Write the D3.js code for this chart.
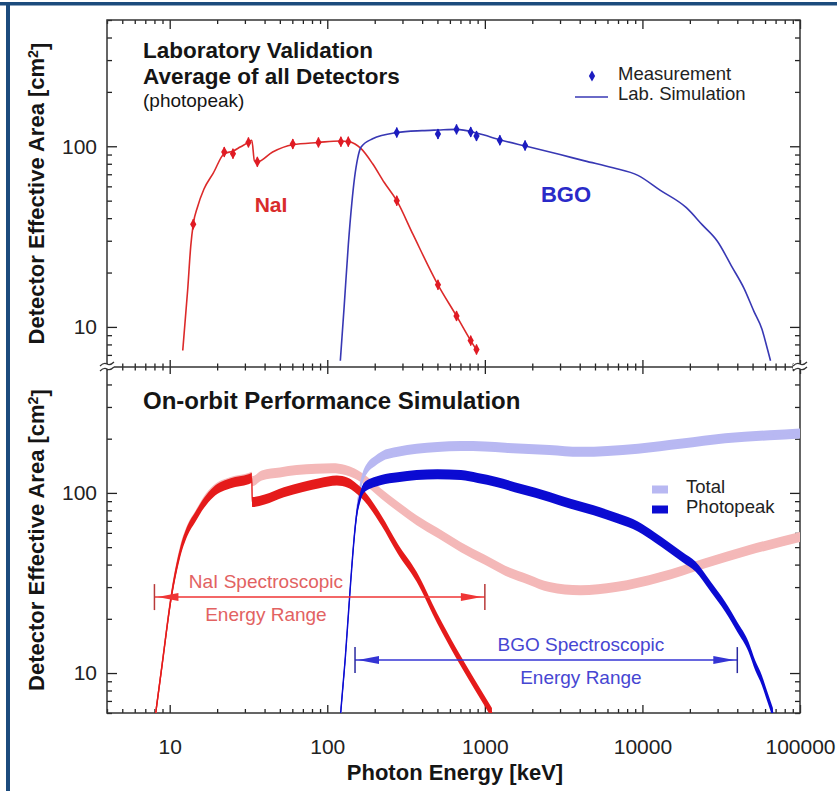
<!DOCTYPE html>
<html>
<head>
<meta charset="utf-8">
<script src="https://cdn.jsdelivr.net/npm/d3@7"></script>
<style>
  body { margin: 0; background: #fff; }
  svg { display: block; font-family: 'Liberation Sans', Arial, Helvetica, sans-serif; }
  .tick line { stroke: #222; stroke-width: 1.3; }
  .tick text { fill: #222; font-size: 21px; }
</style>
</head>
<body>
<script>
// energies in keV, effective area in cm^2

const xMajor = [10, 100, 1000, 10000, 100000]
const yMajor = [10, 100]

// laboratory validation (upper panel)
const naiSim = [[12.1, 7.4], [13.0, 16], [13.6, 28], [14.1, 37], [15.0, 46], [16.5, 58], [18.9, 71],
    [22.2, 91], [25.2, 94], [28.0, 99], [31.6, 105], [33.2, 108], [34.5, 83], [36.0, 82], [45, 93],
    [60.4, 102], [88, 105], [120, 107], [138, 106], [150, 103], [164, 97], [194, 80], [230, 63],
    [276, 50], [350, 32.5], [504, 17.1], [661, 11.5], [813, 8.4], [900, 7.3]]
const bgoSim = [[121, 6.5], [128, 13], [136, 28.5], [143, 48], [149, 67], [156, 86], [164, 99],
    [194, 110], [276, 119], [400, 122], [504, 123], [661, 124], [900, 118], [1275, 108], [1836, 100],
    [3000, 90], [4300, 83], [6500, 76], [9360, 69], [13000, 57], [19000, 45.7], [24000, 36.7],
    [29900, 29.8], [37000, 21.5], [44200, 16.3], [51000, 12.2], [57300, 9.75], [62000, 7.6], [65000, 6.5]]
const naiMeas = [[14.1, 37], [22.2, 93], [25.2, 91], [31.6, 105], [36.0, 82], [60.4, 103], [87.9, 105],
    [122, 106], [136, 106], [276, 50], [504, 17.1], [661, 11.5], [813, 8.4], [885, 7.5]]
const bgoMeas = [[276, 119], [504, 117], [661, 124], [813, 120], [885, 114], [1245, 108], [1800, 101]]

// on-orbit simulation (lower panel)
const naiTotal = [[8.15, 6], [9.0, 11.7], [10.2, 26.5], [11.6, 47], [13.0, 63], [14.6, 75], [16.5, 90],
    [18.9, 103], [24.4, 115], [31.6, 121], [33.2, 123], [33.4, 116], [38.4, 125], [50, 130], [64, 134],
    [85, 136], [108, 137], [130, 134], [149, 128], [180, 115], [220, 99], [280, 84], [369, 70.6],
    [500, 60], [705, 50], [1000, 42.5], [1346, 37], [1900, 33], [2570, 30], [4040, 28.8], [6760, 30],
    [12900, 34], [24700, 40.6], [47100, 48], [100000, 57]]
const naiPhoto = [[8.15, 6], [9.0, 11.5], [10.2, 26], [11.6, 46], [13.0, 62], [14.6, 74], [16.5, 88],
    [18.9, 101], [24.4, 113], [31.6, 119], [33.2, 121], [33.4, 89], [40, 92], [53, 101], [70, 108],
    [89, 113], [115, 117], [135, 114], [149, 108], [170, 97], [220, 70.6], [280, 49], [369, 34.2],
    [500, 20], [661, 12.8], [850, 8.8], [1109, 6]]
const bgoTotal = [[121.6, 6], [130, 12], [140, 30], [147, 53], [154, 80], [160, 102], [168, 122],
    [180, 138], [200, 150], [220, 159], [280, 169], [369, 176], [500, 180], [705, 182], [1000, 181],
    [1346, 178], [2570, 173], [4040, 169], [6000, 171], [9360, 176], [17860, 188], [33500, 201],
    [64000, 209], [100000, 214]]
const bgoPhoto = [[121.6, 6], [130, 12], [140, 30], [147, 52], [154, 77], [162, 95], [170, 106],
    [190, 113], [220, 118], [280, 122], [369, 125.6], [500, 127], [705, 125.6], [900, 121], [1183, 115],
    [1700, 105], [2570, 95], [3500, 87], [4900, 80], [7000, 72], [9360, 65], [12000, 56.5], [14700, 50],
    [18000, 44], [21700, 39], [27000, 30.3], [33500, 23.3], [40000, 18], [47100, 14], [52000, 11],
    [57300, 9.1], [62000, 7.4], [67300, 6]]

// spectroscopic energy ranges
const naiRange = [8, 1000]
const bgoRange = [150, 40000]

// measurements for the figure
const m = {
    width: 837,
    height: 791,
    left: 107,
    right: 800,
    top: 20,
    mid: 367,
    bottom: 713
}

const svg = d3.select('body').append('svg')
    .attr('width', m.width)
    .attr('height', m.height)

// page frame
svg.append('rect').attr('x', 0).attr('y', 2).attr('width', m.width).attr('height', 3.5).attr('fill', '#1c4b7d')
svg.append('rect').attr('x', 6).attr('y', 2).attr('width', 4).attr('height', m.height).attr('fill', '#1c4b7d')

// scales
const x = d3.scaleLog().domain([4, 100000]).range([m.left, m.right])
const yTop = d3.scaleLog().domain([6, 500]).range([m.mid, m.top])
const yBot = d3.scaleLog().domain([6, 500]).range([m.bottom, m.mid])

const xMinor = x.ticks().filter(d => !xMajor.includes(d))
const yMinor = yTop.ticks().filter(d => !yMajor.includes(d))

// clip each panel
const defs = svg.append('defs')
const clip = (id, y0, y1) => defs.append('clipPath').attr('id', id).append('rect')
    .attr('x', m.left).attr('y', y0).attr('width', m.right - m.left).attr('height', y1 - y0)
clip('clipTop', m.top, m.mid)
clip('clipBot', m.mid, m.bottom)

// tick helper, ticks point into the panels (negative size)
function ticks(pos, axis, scale, vals, size) {
    const horiz = axis === d3.axisTop || axis === d3.axisBottom
    svg.append('g')
        .attr('transform', horiz ? `translate(0,${pos})` : `translate(${pos},0)`)
        .call(axis(scale).tickValues(vals).tickSize(size).tickFormat(''))
        .call(g => g.select('.domain').remove())
}

ticks(m.top, d3.axisTop, x, xMajor, -9)
ticks(m.top, d3.axisTop, x, xMinor, -4)
ticks(m.mid, d3.axisTop, x, xMajor, -7)
ticks(m.mid, d3.axisTop, x, xMinor, -3.5)
ticks(m.mid, d3.axisBottom, x, xMajor, -7)
ticks(m.mid, d3.axisBottom, x, xMinor, -3.5)
ticks(m.bottom, d3.axisBottom, x, xMinor, -4)
for (const y of [yTop, yBot]) {
    ticks(m.left, d3.axisLeft, y, yMinor, -5)
    ticks(m.right, d3.axisRight, y, yMajor, -10)
    ticks(m.right, d3.axisRight, y, yMinor, -5)
}

// labelled axes
svg.append('g')
    .attr('transform', `translate(0,${m.bottom})`)
    .call(d3.axisBottom(x).tickValues(xMajor).tickSize(-8).tickPadding(26).tickFormat(d3.format('d')))
    .call(g => g.select('.domain').remove())
    .attr('font-size', null).attr('font-family', null)
for (const y of [yTop, yBot]) {
    svg.append('g')
        .attr('transform', `translate(${m.left},0)`)
        .call(d3.axisLeft(y).tickValues(yMajor).tickSize(-10).tickPadding(10).tickFormat(d3.format('d')))
        .call(g => g.select('.domain').remove())
        .attr('font-size', null).attr('font-family', null)
}

// frame of the two panels
svg.append('rect')
    .attr('x', m.left).attr('y', m.top)
    .attr('width', m.right - m.left).attr('height', m.bottom - m.top)
    .attr('fill', 'none').attr('stroke', '#333').attr('stroke-width', 1.5)
svg.append('line')
    .attr('x1', m.left).attr('x2', m.right).attr('y1', m.mid).attr('y2', m.mid)
    .attr('stroke', '#333').attr('stroke-width', 1.5)

// axis break marks
for (const bx of [m.left, m.right]) {
    const b = svg.append('g').attr('transform', `translate(${bx},${m.mid})`)
    b.append('rect').attr('x', -7).attr('y', -3).attr('width', 14).attr('height', 5).attr('fill', '#fff')
    for (const off of [-3, 2]) {
        b.append('path')
            .attr('d', `M-7,${off + 2} Q-3,${off - 2} 0,${off} T7,${off - 2}`)
            .attr('fill', 'none').attr('stroke', '#333').attr('stroke-width', 1.2)
    }
}

// ---- upper panel ----
const upper = svg.append('g').attr('clip-path', 'url(#clipTop)')
const lineTop = d3.line().x(d => x(d[0])).y(d => yTop(d[1])).curve(d3.curveMonotoneX)

upper.append('path').datum(naiSim).attr('d', lineTop)
    .attr('fill', 'none').attr('stroke', '#dc2a2a').attr('stroke-width', 1.6)
upper.append('path').datum(bgoSim).attr('d', lineTop)
    .attr('fill', 'none').attr('stroke', '#3838b4').attr('stroke-width', 1.6)

const diamond = d3.symbol().type(d3.symbolDiamond).size(34)
function markers(data, color) {
    const g = upper.selectAll(null).data(data).join('g')
        .attr('transform', d => `translate(${x(d[0])},${yTop(d[1])})`)
    g.append('line').attr('y1', -5).attr('y2', 5).attr('stroke', color).attr('stroke-width', 1.4)
    g.append('path').attr('d', diamond).attr('fill', color)
}
markers(naiMeas, '#e01b24')
markers(bgoMeas, '#1c1cc0')

svg.append('text').attr('x', 143).attr('y', 58)
    .attr('font-size', 22.5).attr('font-weight', 'bold').attr('fill', '#151515')
    .text('Laboratory Validation')
svg.append('text').attr('x', 143).attr('y', 84)
    .attr('font-size', 22.5).attr('font-weight', 'bold').attr('fill', '#151515')
    .text('Average of all Detectors')
svg.append('text').attr('x', 143).attr('y', 107)
    .attr('font-size', 19).attr('fill', '#151515')
    .text('(photopeak)')

svg.append('text').attr('x', 271).attr('y', 212).attr('text-anchor', 'middle')
    .attr('font-size', 21).attr('font-weight', 'bold').attr('fill', '#d92b2b').text('NaI')
svg.append('text').attr('x', 566).attr('y', 202).attr('text-anchor', 'middle')
    .attr('font-size', 22).attr('font-weight', 'bold').attr('fill', '#2a2ac8').text('BGO')

// upper legend
svg.append('path').attr('d', diamond).attr('transform', 'translate(592,76)').attr('fill', '#1c1cc0')
svg.append('line').attr('x1', 575).attr('x2', 608).attr('y1', 97).attr('y2', 97)
    .attr('stroke', '#3838b4').attr('stroke-width', 1.6)
svg.append('text').attr('x', 618).attr('y', 80).attr('font-size', 18.5).attr('fill', '#222').text('Measurement')
svg.append('text').attr('x', 618).attr('y', 100).attr('font-size', 18.5).attr('fill', '#222').text('Lab. Simulation')

// ---- lower panel ----
const lower = svg.append('g').attr('clip-path', 'url(#clipBot)')
const band = d3.area()
    .x(d => x(d[0]))
    .y0(d => yBot(d[1]) - 5)
    .y1(d => yBot(d[1]) + 5)
    .curve(d3.curveMonotoneX)
const lineBot = d3.line().x(d => x(d[0])).y(d => yBot(d[1])).curve(d3.curveMonotoneX)

const curves = [
    { data: naiTotal, color: '#f4b8b8' },
    { data: bgoTotal, color: '#b8b8f2' },
    { data: naiPhoto, color: '#e51b1b' },
    { data: bgoPhoto, color: '#0b0bd2' }
]
for (const c of curves) {
    lower.append('path').datum(c.data).attr('d', band).attr('fill', c.color)
    lower.append('path').datum(c.data).attr('d', lineBot)
        .attr('fill', 'none').attr('stroke', c.color).attr('stroke-width', 1.4)
}

svg.append('text').attr('x', 143).attr('y', 409)
    .attr('font-size', 24).attr('font-weight', 'bold').attr('fill', '#151515')
    .text('On-orbit Performance Simulation')

// spectroscopic range arrows
function rangeArrow(range, yVal, labelE, label, color, barColor, textColor) {
    const x0 = x(range[0]), x1 = x(range[1]), yy = yBot(yVal)
    const g = svg.append('g')
    g.append('line').attr('x1', x0).attr('x2', x1).attr('y1', yy).attr('y2', yy)
        .attr('stroke', color).attr('stroke-width', 1.5)
    for (const bx of [x0, x1]) {
        g.append('line').attr('x1', bx).attr('x2', bx).attr('y1', yy - 13).attr('y2', yy + 13)
            .attr('stroke', barColor).attr('stroke-width', 1.5)
    }
    g.append('path').attr('d', `M${x0 + 3},${yy}L${x0 + 24},${yy - 4}L${x0 + 24},${yy + 4}Z`).attr('fill', color)
    g.append('path').attr('d', `M${x1 - 3},${yy}L${x1 - 24},${yy - 4}L${x1 - 24},${yy + 4}Z`).attr('fill', color)
    g.append('text').attr('x', x(labelE)).attr('y', yy - 9).attr('text-anchor', 'middle')
        .attr('font-size', 19).attr('fill', textColor).text(label)
    g.append('text').attr('x', x(labelE)).attr('y', yy + 24).attr('text-anchor', 'middle')
        .attr('font-size', 19).attr('fill', textColor).text('Energy Range')
}
rangeArrow(naiRange, 26.4, 40.8, 'NaI Spectroscopic', '#ef3535', '#b83a3a', '#e26262')
rangeArrow(bgoRange, 11.8, 4070, 'BGO Spectroscopic', '#3434d4', '#2a2aa0', '#4646d2')

// lower legend
const legend = [{ name: 'Total', color: '#b8b8f2' }, { name: 'Photopeak', color: '#0b0bd2' }]
legend.forEach((d, i) => {
    svg.append('rect').attr('x', 652).attr('y', 485.5 + i * 20).attr('width', 16).attr('height', 8).attr('fill', d.color)
    svg.append('text').attr('x', 686).attr('y', 493 + i * 20).attr('font-size', 18.5).attr('fill', '#222').text(d.name)
})

// axis titles
for (const cy of [(m.top + m.mid) / 2, (m.mid + m.bottom) / 2]) {
    const t = svg.append('text')
        .attr('transform', `translate(44,${cy})rotate(-90)`)
        .attr('text-anchor', 'middle')
        .attr('font-size', 22).attr('font-weight', 'bold').attr('fill', '#151515')
    t.append('tspan').text('Detector Effective Area [cm')
    t.append('tspan').attr('dy', '-0.45em').attr('font-size', '0.65em').text('2')
    t.append('tspan').attr('dy', '0.45em').text(']')
}
svg.append('text').attr('x', 455).attr('y', 780).attr('text-anchor', 'middle')
    .attr('font-size', 22).attr('font-weight', 'bold').attr('fill', '#151515')
    .text('Photon Energy [keV]')
</script>
</body>
</html>
